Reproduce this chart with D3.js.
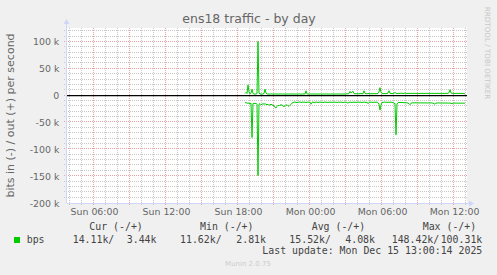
<!DOCTYPE html>
<html><head><meta charset="utf-8">
<script src="https://cdn.jsdelivr.net/npm/d3@7"></script>
<style>
html,body{margin:0;padding:0;background:#f0f0f0;}
svg{display:block;}
</style></head>
<body>
<script>
// ---------- data (values in k bits/s) ----------
const title = "ens18 traffic - by day";
const yAxisTitle = "bits in (-) / out (+) per second";
const seriesName = "bps";
const dataStart = Date.UTC(2025, 11, 14, 18, 35); // Sun 18:35
const stepMinutes = 5;
const outValues = [
 4, 6, 4, 20, 7, 3, 5, 12, 4, 3,
 3, 3, 4, 101, 5, 3, 3, 3, 3, 4,
 12, 5, 3, 3, 2.9, 3, 3.1, 3, 2.9, 3,
 3, 3.1, 3, 2.9, 3, 3, 3.2, 3, 2.9, 3,
 3, 3.1, 3, 3, 2.9, 3, 3, 3.1, 3, 3,
 2.9, 3, 3, 3.1, 3, 3, 2.9, 3, 3.1, 3,
 3.2, 9, 3.3, 3, 3, 2.9, 3, 3, 3.1, 3,
 3, 2.9, 3, 3.1, 3, 3, 3, 2.9, 3, 3.1,
 3, 3, 3.1, 3, 2.9, 3, 3, 3.1, 3, 3,
 2.9, 3, 3.1, 3, 3, 3, 2.9, 3, 3.1, 3,
 3, 3.2, 3.4, 3.3, 4, 8, 5, 7, 8, 4,
 3.5, 3.4, 3.6, 3.5, 3.4, 3.6, 4, 3.5, 3.6, 9,
 4.2, 3.6, 3.5, 3.7, 4, 3.6, 3.5, 3.6, 3.7, 3.6,
 3.5, 3.6, 3.8, 4, 7, 15, 6, 4.2, 3.8, 3.7,
 3.8, 3.7, 4, 5, 9, 4.5, 3.9, 3.8, 4.2, 4.4,
 6, 4.3, 4, 4.2, 4.3, 4.1, 4.8, 4.2, 4.1, 4.2,
 5, 4.3, 4.2, 4.1, 4.2, 4.3, 4.2, 4.1, 4.2, 4.3,
 4.2, 4.1, 4.3, 4.2, 4.2, 4.1, 4.2, 4.3, 4.2, 4.1,
 4.2, 4.3, 4.2, 4.4, 4.2, 4.1, 4.2, 4.3, 4.2, 4.2,
 4.1, 4.2, 4.3, 4.2, 4.1, 4.2, 4.2, 4.3, 4.2, 4.1,
 4.2, 4.3, 4.2, 4.4, 5.5, 11, 5, 4.3, 4.2, 4.2,
 4.1, 4.2, 4.3, 4.2, 4.1, 4.2, 4.2, 4.1, 4.2, 4.0, 3.44
];
const inValues = [
 13, 13, 14, 14, 14, 15, 14, 78, 15, 14,
 15, 14, 16, 149, 16, 15, 17, 16, 15, 16,
 15, 16, 17, 16, 18, 17, 16, 17, 18, 19,
 22, 23, 20, 18, 19, 17, 18, 17, 20, 19,
 20, 18, 17, 19, 20, 18, 16, 14, 13, 12,
 12, 12.5, 13, 12, 12.3, 11.62, 13, 12.2, 12, 12.5,
 12, 13, 12.2, 12, 12.5, 12, 16, 12.5, 12, 13,
 12, 12.4, 12, 13, 12.2, 12, 12.6, 12, 13, 12.3,
 12, 12.5, 12.2, 13, 12, 12.4, 12, 12.8, 12.2, 12,
 12.5, 12, 13, 12.2, 12, 12.6, 12, 12.3, 13, 12,
 12.4, 12, 13, 14, 12.5, 12, 12.3, 12.8, 12, 12.5,
 12, 13, 12.2, 12, 12.6, 12, 12.4, 13, 12, 12.3,
 12, 12.8, 12.2, 15, 12.5, 12, 12.4, 12.2, 13, 12,
 12.5, 12.2, 12, 13, 16, 27, 18, 13, 12.5, 12.2,
 12, 12.6, 12.2, 13, 12, 12.4, 12, 12.8, 13, 14,
 15, 73, 16, 13, 12.5, 12.8, 13, 12.6, 13, 13.2,
 13, 13.4, 13.2, 14, 15, 17, 14, 13.5, 13.2, 13.6,
 13.4, 13.2, 13.6, 13.4, 13.8, 13.3, 13.5, 13.7, 13.4, 13.6,
 13.5, 13.4, 13.8, 13.6, 13.5, 13.7, 13.4, 13.6, 14, 15,
 16, 14, 13.6, 13.8, 13.5, 13.7, 13.9, 13.6, 13.8, 13.7,
 13.9, 13.6, 13.8, 14, 13.7, 13.9, 14.2, 15, 14, 13.8,
 14, 13.8, 14.1, 13.9, 14, 14.2, 13.9, 14.1, 14, 13.9, 14.11
];
const yTickValues = [-200, -150, -100, -50, 0, 50, 100];
const yTickLabels = ["-200 k", "-150 k", "-100 k", "-50 k", "0", "50 k", "100 k"];
const xTickLabels = ["Sun 06:00", "Sun 12:00", "Sun 18:00", "Mon 00:00", "Mon 06:00", "Mon 12:00"];
const legendHeaders = ["Cur (-/+)", "Min (-/+)", "Avg (-/+)", "Max (-/+)"];
const legendIn  = ["14.11k/", "11.62k/", "15.52k/", "148.42k/"];
const legendOut = ["3.44k", "2.81k", "4.08k", "100.31k"];
const lastUpdate = "Last update: Mon Dec 15 13:00:14 2025";
const footer = "Munin 2.0.75";
const watermark = "RRDTOOL / TOBI OETIKER";

// ---------- layout ----------
const W = 497, H = 275;
const L = 67, R = 467, T = 28, B = 203;
const svg = d3.select("body").append("svg").attr("width", W).attr("height", H);
svg.append("rect").attr("width", W).attr("height", H).attr("fill", "#f0f0f0");
svg.append("rect").attr("x", L).attr("y", T).attr("width", R - L).attr("height", B - T).attr("fill", "#ffffff");

const tStart = new Date(Date.UTC(2025, 11, 14, 3, 45));
const tEnd = new Date(Date.UTC(2025, 11, 15, 13, 5));
const x = d3.scaleUtc().domain([tStart, tEnd]).range([L, R]);
const y = d3.scaleLinear().domain([-200, 126]).range([B, T]);

const sans = "'DejaVu Sans', sans-serif";
const mono = "'DejaVu Sans Mono', monospace";
const crisp = v => Math.round(v) + 0.5;

// grid
const grid = svg.append("g");
const hours = d3.utcHour.range(d3.utcHour.ceil(tStart), tEnd);
hours.forEach(h => {
  const major = h.getUTCHours() % 3 === 0;
  const xx = crisp(x(h)) - 1;
  grid.append("line").attr("x1", xx).attr("x2", xx).attr("y1", T).attr("y2", B + 3)
    .attr("stroke", major ? "#e9a3a3" : "#c7c7c7").attr("stroke-dasharray", "1,1");
});
d3.range(-190, 121, 10).forEach(v => {
  const major = v % 50 === 0;
  const yy = crisp(y(v)) - 1;
  grid.append("line").attr("x1", L - 3).attr("x2", R + 1).attr("y1", yy).attr("y2", yy)
    .attr("stroke", major ? "#e9a3a3" : "#c7c7c7").attr("stroke-dasharray", "1,1");
});

// axes lines (light blue) with arrows
const axisCol = "#cfd6f8";
svg.append("line").attr("x1", L - 0.5).attr("x2", L - 0.5).attr("y1", B).attr("y2", T - 5).attr("stroke", axisCol);
svg.append("line").attr("x1", L).attr("x2", R + 3).attr("y1", B + 0.5).attr("y2", B + 0.5).attr("stroke", axisCol);
svg.append("path").attr("d", `M${L - 3.5},${T - 4} L${L + 2.5},${T - 4} L${L - 0.5},${T - 9} Z`).attr("fill", axisCol);
svg.append("path").attr("d", `M${R + 2},${B - 2.5} L${R + 2},${B + 3.5} L${R + 7},${B + 0.5} Z`).attr("fill", axisCol);

// zero line
svg.append("line").attr("x1", L).attr("x2", R).attr("y1", y(0)).attr("y2", y(0))
  .attr("stroke", "#000").attr("stroke-width", 1.3);

// data
const times = outValues.map((_, i) => new Date(dataStart + i * stepMinutes * 60000));
const lineGen = d3.line().x(d => x(d[0])).y(d => y(d[1]));
svg.append("path").datum(times.map((t, i) => [t, outValues[i]]))
  .attr("d", lineGen).attr("fill", "none").attr("stroke", "#00cc00").attr("stroke-width", 1);
svg.append("path").datum(times.map((t, i) => [t, -inValues[i]]))
  .attr("d", lineGen).attr("fill", "none").attr("stroke", "#00cc00").attr("stroke-width", 1);

// y axis labels
const yAxis = d3.axisLeft(y).tickValues(yTickValues).tickFormat((d, i) => yTickLabels[i])
  .tickSizeInner(0).tickSizeOuter(0).tickPadding(7.7);
const gy = svg.append("g").attr("transform", `translate(${L},0)`).call(yAxis);
gy.select(".domain").remove();
gy.selectAll("text").attr("font-family", sans).attr("font-size", 9.4).attr("fill", "#666");

// x axis labels
const xTickTimes = [6, 12, 18, 24, 30, 36].map(h => new Date(Date.UTC(2025, 11, 14, 0, 0) + h * 3600000));
const xAxis = d3.axisBottom(x).tickValues(xTickTimes).tickFormat((d, i) => xTickLabels[i])
  .tickSizeInner(0).tickSizeOuter(0).tickPadding(5.3);
const gx = svg.append("g").attr("transform", `translate(0,${B})`).call(xAxis);
gx.select(".domain").remove();
gx.selectAll("text").attr("font-family", sans).attr("font-size", 9.4).attr("fill", "#666");

// title
svg.append("text").attr("x", 249).attr("y", 23).attr("text-anchor", "middle")
  .attr("font-family", sans).attr("font-size", 12.5).attr("fill", "#666").text(title);

// y axis title
svg.append("text").attr("transform", `translate(14,${(T + B) / 2}) rotate(-90)`)
  .attr("text-anchor", "middle").attr("font-family", sans).attr("font-size", 11).attr("fill", "#666").text(yAxisTitle);

// watermark
svg.append("text").attr("transform", `translate(485,53) rotate(90)`)
  .attr("text-anchor", "middle").attr("font-family", sans).attr("font-size", 7.2).attr("fill", "#c8c8c8").text(watermark);

// legend
const lg = svg.append("g").attr("font-family", mono).attr("font-size", 9.9).attr("fill", "#444");
const headerX = [89.3, 200, 311.7, 422.7];
legendHeaders.forEach((h, i) => lg.append("text").attr("x", headerX[i]).attr("y", 230).text(h));
lg.append("rect").attr("x", 14).attr("y", 237).attr("width", 6).attr("height", 6).attr("fill", "#00cc00");
lg.append("text").attr("x", 26.7).attr("y", 242.7).text(seriesName);
const inX = [72.7, 180, 289.3, 391.7];
const outEndX = [156.5, 266, 375, 482.3];
legendIn.forEach((v, i) => lg.append("text").attr("x", inX[i]).attr("y", 242.7).text(v));
legendOut.forEach((v, i) => lg.append("text").attr("x", outEndX[i]).attr("y", 242.7).attr("text-anchor", "end").text(v));
lg.append("text").attr("x", 482.3).attr("y", 254.3).attr("text-anchor", "end").text(lastUpdate);

svg.append("text").attr("x", 248).attr("y", 266).attr("text-anchor", "middle")
  .attr("font-family", sans).attr("font-size", 7).attr("fill", "#cccccc").text(footer);
</script>
</body></html>
